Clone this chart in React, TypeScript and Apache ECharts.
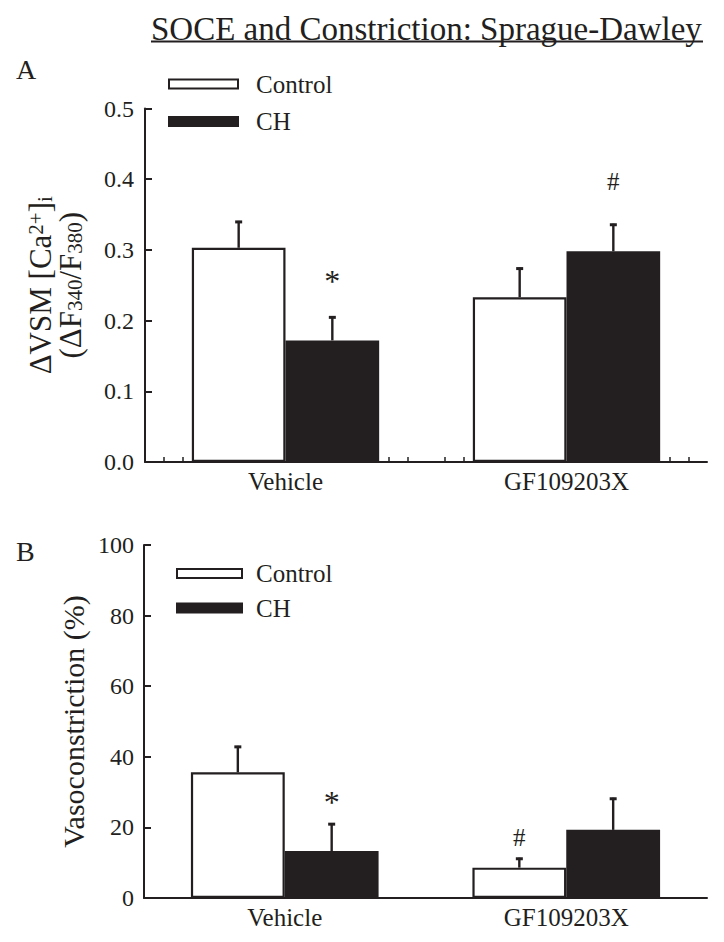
import React, { useEffect, useRef } from 'react';
import * as echarts from 'echarts';

const INK = '#231f20';
const FONT = 'Liberation Serif';

const titleText = 'SOCE and Constriction: Sprague-Dawley';
const categories = ['Vehicle', 'GF109203X'];
const seriesNames = ['Control', 'CH'];

// Panel A: ΔVSM [Ca2+]i (ΔF340/F380)
const socControl = [0.303, 0.233];
const socControlErr = [0.038, 0.042];
const socCH = [0.172, 0.298];
const socCHErr = [0.034, 0.039];
const socTicks = [0, 0.1, 0.2, 0.3, 0.4, 0.5];
// significance marks: [category index, side (-1 Control, 1 CH), y value, symbol]
const socMarks: [number, number, number, string][] = [
  [0, 1, 0.256, '*'],
  [1, 1, 0.397, '#'],
];

// Panel B: Vasoconstriction (%)
const vasoControl = [35.6, 8.6];
const vasoControlErr = [7.5, 2.8];
const vasoCH = [13.3, 19.3];
const vasoCHErr = [7.9, 9.1];
const vasoTicks = [0, 20, 40, 60, 80, 100];
const vasoMarks: [number, number, number, string][] = [
  [0, 1, 27.2, '*'],
  [1, -1, 17, '#'],
];

// small inner ticks on panel A's x axis (in 1/30 of axis length)
const minorTickSteps = [1, 2, 13, 14, 16, 17, 28, 29];

const txt = (size: number) => ({ color: INK, fontSize: size, fontFamily: FONT });

function barSeries(name: string, xi: number, yi: number, values: number[], filled: boolean) {
  return {
    type: 'bar', name, xAxisIndex: xi, yAxisIndex: yi, data: values,
    barWidth: '33.333%', barGap: '0%', z: 2,
    itemStyle: filled
      ? { color: INK, borderColor: INK, borderWidth: 0 }
      : { color: '#ffffff', borderColor: INK, borderWidth: 2.2 },
  };
}

function errorSeries(xi: number, yi: number, means: number[], errs: number[], side: number) {
  return {
    type: 'custom', xAxisIndex: xi, yAxisIndex: yi, z: 3, silent: true,
    data: means.map((m, i) => [i, m, m + errs[i]]),
    renderItem: (params: any, api: any) => {
      const band = api.size([1, 0])[0];
      const off = (side * band) / 6;
      const base = api.coord([api.value(0), api.value(1)]);
      const top = api.coord([api.value(0), api.value(2)]);
      const x = base[0] + off;
      return {
        type: 'group',
        children: [
          { type: 'line', shape: { x1: x, y1: base[1], x2: x, y2: top[1] }, style: { stroke: INK, lineWidth: 2.4 } },
          { type: 'line', shape: { x1: x - 3.5, y1: top[1] + 1, x2: x + 3.5, y2: top[1] + 1 }, style: { stroke: INK, lineWidth: 3 } },
        ],
      };
    },
  };
}

function markSeries(xi: number, yi: number, marks: [number, number, number, string][]) {
  return {
    type: 'custom', xAxisIndex: xi, yAxisIndex: yi, z: 4, silent: true,
    data: marks.map((m) => [m[0], m[2], m[1]]),
    renderItem: (params: any, api: any) => {
      const band = api.size([1, 0])[0];
      const p = api.coord([api.value(0), api.value(1)]);
      const sym = marks[params.dataIndex][3];
      return {
        type: 'text',
        style: {
          text: sym, x: p[0] + (api.value(2) * band) / 6, y: p[1],
          align: 'center', verticalAlign: 'middle',
          fontSize: sym === '*' ? 32 : 25, fontFamily: FONT, fill: INK,
        },
      };
    },
  };
}

// y tick labels, placed through the y scale
function tickLabelSeries(xi: number, yi: number, ticks: number[], fmt: (v: number) => string, margin: number) {
  return {
    type: 'custom', xAxisIndex: xi, yAxisIndex: yi, z: 4, silent: true, clip: false,
    data: ticks.map((v) => [0, v]),
    renderItem: (params: any, api: any) => {
      const p = api.coord([0, api.value(1)]);
      return {
        type: 'text',
        style: {
          text: fmt(ticks[params.dataIndex]),
          x: params.coordSys.x - margin, y: p[1],
          align: 'right', verticalAlign: 'middle',
          fontSize: 24, fontFamily: FONT, fill: INK,
        },
      };
    },
  };
}

// category labels under the x axis, placed through the category scale
function categoryLabelSeries(xi: number, yi: number, bottomValue: number) {
  return {
    type: 'custom', xAxisIndex: xi, yAxisIndex: yi, z: 4, silent: true, clip: false,
    data: categories.map((c, i) => [i, bottomValue]),
    renderItem: (params: any, api: any) => {
      const p = api.coord([api.value(0), api.value(1)]);
      return {
        type: 'text',
        style: {
          text: categories[params.dataIndex],
          x: p[0], y: p[1] + 7,
          align: 'center', verticalAlign: 'top',
          fontSize: 25, fontFamily: FONT, fill: INK,
        },
      };
    },
  };
}

function categoryAxis(gridIndex: number) {
  return {
    type: 'category', gridIndex, data: categories, position: 'bottom', boundaryGap: true,
    axisLine: { show: true, lineStyle: { color: INK, width: 2 } },
    axisTick: { show: false },
    axisLabel: { show: false },
    splitLine: { show: false },
  };
}

function legendGraphics(x: number, w: number, y1: number, y2: number, textX: number) {
  const h = 9;
  return [
    { type: 'rect', shape: { x, y: y1 - h / 2, width: w, height: h }, style: { fill: '#ffffff', stroke: INK, lineWidth: 2 } },
    { type: 'rect', shape: { x: x - 1, y: y2 - h / 2 - 1, width: w + 2, height: h + 2 }, style: { fill: INK } },
    { type: 'text', x: textX, y: y1, style: { text: seriesNames[0], fontSize: 25, fontFamily: FONT, fill: INK, align: 'left', verticalAlign: 'middle' } },
    { type: 'text', x: textX, y: y2, style: { text: seriesNames[1], fontSize: 25, fontFamily: FONT, fill: INK, align: 'left', verticalAlign: 'middle' } },
  ];
}

export default function App() {
  const ref = useRef<HTMLDivElement>(null);

  useEffect(() => {
    if (!ref.current) return;
    const chart = echarts.init(ref.current, undefined, { renderer: 'svg' });
    const option: any = {
      animation: false,
      backgroundColor: '#ffffff',
      title: { text: titleText, left: 151, top: 12, padding: 0, textStyle: { ...txt(33), fontWeight: 'normal' } },
      graphic: [
        { type: 'line', shape: { x1: 151, y1: 41.5, x2: 703, y2: 41.5 }, style: { stroke: INK, lineWidth: 2 } },
        { type: 'text', x: 16, y: 55, style: { text: 'A', fontSize: 28, fontFamily: FONT, fill: INK } },
        { type: 'text', x: 16, y: 537, style: { text: 'B', fontSize: 28, fontFamily: FONT, fill: INK } },
        ...legendGraphics(169, 69, 84, 121.5, 256),
        ...legendGraphics(177, 65, 573.5, 608, 256),
        {
          type: 'text', x: 73, y: 721.5, rotation: Math.PI / 2,
          style: { text: 'Vasoconstriction (%)', fontSize: 30, fontFamily: FONT, fill: INK, align: 'center', verticalAlign: 'middle' },
        },
      ],
      grid: [
        { left: 145, top: 108.5, right: 17, height: 353.5, containLabel: false },
        { left: 144, top: 545, right: 17, height: 353, containLabel: false },
      ],
      xAxis: [
        categoryAxis(0),
        categoryAxis(1),
        {
          type: 'value', gridIndex: 0, position: 'bottom', min: 0, max: 30, interval: 1,
          axisLine: { show: false }, axisLabel: { show: false }, splitLine: { show: false },
          axisTick: { show: true, inside: true, length: 5, customValues: minorTickSteps, lineStyle: { color: INK, width: 1.5 } },
        },
      ],
      yAxis: [
        {
          type: 'value', gridIndex: 0, min: socTicks[0], max: socTicks[socTicks.length - 1], interval: 0.1,
          axisLine: { show: true, lineStyle: { color: INK, width: 2 } },
          axisTick: { show: true, inside: true, length: 7, lineStyle: { color: INK, width: 2 } },
          axisLabel: { show: false },
          splitLine: { show: false },
          name: '{m|ΔVSM [Ca}{sup|2+}{m|]}{sub|i}\n{m|(ΔF}{sub|340}{m|/F}{sub|380}{m|)}',
          nameLocation: 'middle', nameRotate: 90, nameGap: 60,
          nameTextStyle: {
            ...txt(31), lineHeight: 30,
            rich: {
              m: { ...txt(31), lineHeight: 30 },
              sup: { ...txt(21), lineHeight: 14, verticalAlign: 'top' },
              sub: { ...txt(21), lineHeight: 14, verticalAlign: 'bottom' },
            },
          },
        },
        {
          type: 'value', gridIndex: 1, min: vasoTicks[0], max: vasoTicks[vasoTicks.length - 1], interval: 20,
          axisLine: { show: true, lineStyle: { color: INK, width: 2 } },
          axisTick: { show: true, inside: true, length: 7, lineStyle: { color: INK, width: 2 } },
          axisLabel: { show: false },
          splitLine: { show: false },
        },
      ],
      series: [
        barSeries(seriesNames[0], 0, 0, socControl, false),
        barSeries(seriesNames[1], 0, 0, socCH, true),
        errorSeries(0, 0, socControl, socControlErr, -1),
        errorSeries(0, 0, socCH, socCHErr, 1),
        markSeries(0, 0, socMarks),
        tickLabelSeries(0, 0, socTicks, (v) => v.toFixed(1), 11),
        categoryLabelSeries(0, 0, socTicks[0]),
        barSeries(seriesNames[0], 1, 1, vasoControl, false),
        barSeries(seriesNames[1], 1, 1, vasoCH, true),
        errorSeries(1, 1, vasoControl, vasoControlErr, -1),
        errorSeries(1, 1, vasoCH, vasoCHErr, 1),
        markSeries(1, 1, vasoMarks),
        tickLabelSeries(1, 1, vasoTicks, (v) => String(v), 10),
        categoryLabelSeries(1, 1, vasoTicks[0]),
      ],
    };
    chart.setOption(option);
    return () => chart.dispose();
  }, []);

  return (
    <div>
      <div ref={ref} style={{ position: 'absolute', left: 0, top: 0, width: 724, height: 942, background: '#ffffff' }} />
    </div>
  );
}
